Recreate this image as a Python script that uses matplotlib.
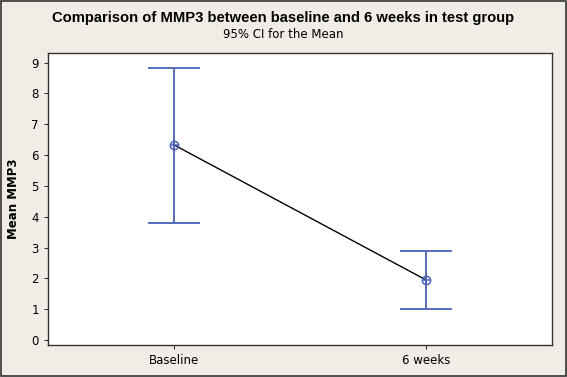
import matplotlib
matplotlib.use("Agg")
import matplotlib.pyplot as plt

categories = ["Baseline", "6 weeks"]
means = [6.33, 1.95]
lower_ci = [3.80, 1.01]
upper_ci = [8.83, 2.90]
yticks = [0, 1, 2, 3, 4, 5, 6, 7, 8, 9]

bg = "#F1EDE6"
blue = "#4A62B8"

fig = plt.figure(figsize=(5.67, 3.77), dpi=100, facecolor=bg)
fig.patches.append(plt.Rectangle((0.002, 0.003), 0.996, 0.994, transform=fig.transFigure,
                                 fill=False, edgecolor="#333333", linewidth=1.2))
ax = fig.add_axes([48/567, 1 - 345/377, (552-48)/567, (345-53)/377])
ax.set_facecolor("white")

x = list(range(len(categories)))
yerr = [[m - l for m, l in zip(means, lower_ci)], [u - m for m, u in zip(means, upper_ci)]]
ax.errorbar(x, means, yerr=yerr, fmt="none", ecolor=blue, elinewidth=1.3,
            capsize=18.5, capthick=1.3, zorder=2)
ax.plot(x, means, color="black", linewidth=1.0, zorder=3)
ax.plot(x, means, linestyle="none", marker="o", markersize=6, markerfacecolor="none",
        markeredgecolor=blue, markeredgewidth=1.1, zorder=4)
ax.plot(x, means, linestyle="none", marker="+", markersize=6, markeredgecolor=blue,
        markeredgewidth=1.1, zorder=4)

ax.set_xlim(-0.5, 1.5)
ax.set_ylim(-0.16, 9.31)
ax.set_xticks(x)
ax.set_xticklabels(categories)
ax.set_yticks(yticks)
ax.tick_params(labelsize=8.5, length=3, color="#333333")
for s in ax.spines.values():
    s.set_color("#333333")
    s.set_linewidth(1.0)

ax.set_ylabel("Mean MMP3", fontsize=8.5, fontweight="bold", labelpad=8)
fig.text(0.5, 1 - 18/377, "Comparison of MMP3 between baseline and 6 weeks in test group",
         ha="center", va="center", fontsize=10.6, fontweight="bold", family="Liberation Sans")
fig.text(0.5, 1 - 35/377, "95% CI for the Mean", ha="center", va="center", fontsize=8.5)

fig.savefig("out.png", dpi=100, facecolor=bg)
